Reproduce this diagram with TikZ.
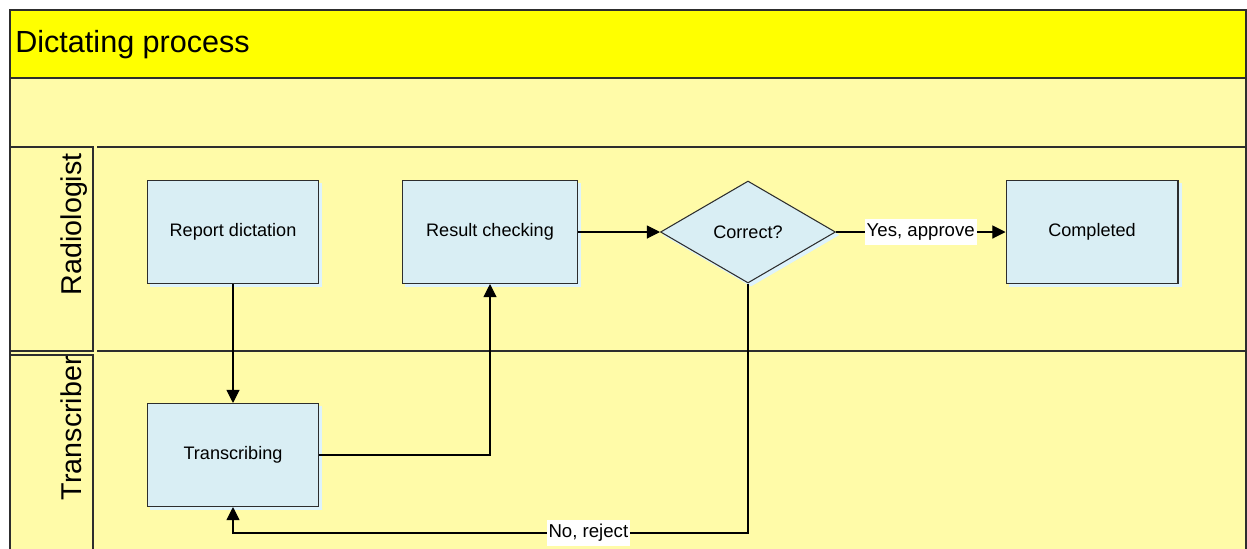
\documentclass[tikz,border=0pt]{standalone}
\usepackage{fontspec}
\setmainfont{Liberation Sans}
\usetikzlibrary{shapes.geometric,arrows.meta,shadows}
\definecolor{titleyellow}{RGB}{255,255,0}
\definecolor{laneyellow}{RGB}{255,251,168}
\definecolor{taskblue}{RGB}{217,238,244}
\definecolor{shadeblue}{RGB}{222,243,251}
\definecolor{edgegrey}{RGB}{45,45,45}

\begin{document}
\begin{tikzpicture}[x=0.02cm,y=-0.02cm]

    \tikzset{
      task/.style={
        draw=edgegrey,
        fill=taskblue,
        line width=0.6pt,
        inner sep=0pt,
        minimum width=3.42cm,
        minimum height=2.06cm,
        font=\fontsize{10.3}{12}\selectfont,
        copy shadow={shadow xshift=0.06cm, shadow yshift=-0.06cm, draw=shadeblue, fill=shadeblue},
      },
      decision/.style={
        task,
        diamond,
        aspect=1.7,
        minimum width=3.5cm,
        minimum height=2.04cm,
      },
      frame/.style={draw=edgegrey, line width=0.6pt},
      flow/.style={draw=black, line width=0.6pt, -{Triangle[length=7.5pt,width=7.5pt]}},
      choice/.style={fill=white, inner xsep=1pt, inner ysep=2.5pt, font=\fontsize{10.6}{12}\selectfont},
      lanelabel/.style={rotate=90, anchor=base east, inner sep=0pt, font=\fontsize{16.3}{19}\selectfont},
    }
    \useasboundingbox (0,0) rectangle (1247,548);
    \clip (0,0) rectangle (1247,548);
	% pool and lanes
	\fill[laneyellow] (10,10) rectangle (1246,552);
	\fill[titleyellow] (10,10) rectangle (1246,78);
	\draw[frame] (10,552) -- (10,10) -- (1246,10) -- (1246,552);
	\draw[frame] (10,78) -- (1246,78);
	\draw[frame] (10,147) rectangle (93,351);
	\draw[frame] (10,355) -- (93,355) -- (93,552);
	\draw[frame] (97,147) -- (1246,147);
	\draw[frame] (97,351) -- (1246,351);
	\node[anchor=base west, inner sep=0pt, font=\fontsize{17.4}{20}\selectfont] (title) at (15,52) {Dictating process};
	\node[lanelabel] (radiologist) at (81,153) {Radiologist};
	\node[lanelabel] (transcriber) at (81,356) {Transcriber};
	% tasks
	\node[task] (dictation) at (233,232) {Report dictation};
	\node[task, minimum width=3.5cm] (checking) at (490,232) {Result checking};
	\node[decision] (correct) at (748,232) {Correct?};
	\node[task, minimum width=3.44cm] (completed) at (1092,232) {Completed};
	\node[task] (transcribing) at (233,455) {Transcribing};
	\coordinate (rejectturn) at (748,533);
	% flows
	\draw[flow] (dictation) -- (transcribing);
	\draw[flow] (transcribing.east) -| (checking.south);
	\draw[flow] (checking) -- (correct);
	\draw[flow] (correct) -- node[choice] {Yes, approve} (completed);
	\draw[flow] (correct.south) -- (rejectturn) -- node[choice, pos=0.31] {No, reject} (rejectturn -| transcribing.south) -- (transcribing.south);

\end{tikzpicture}
\end{document}
